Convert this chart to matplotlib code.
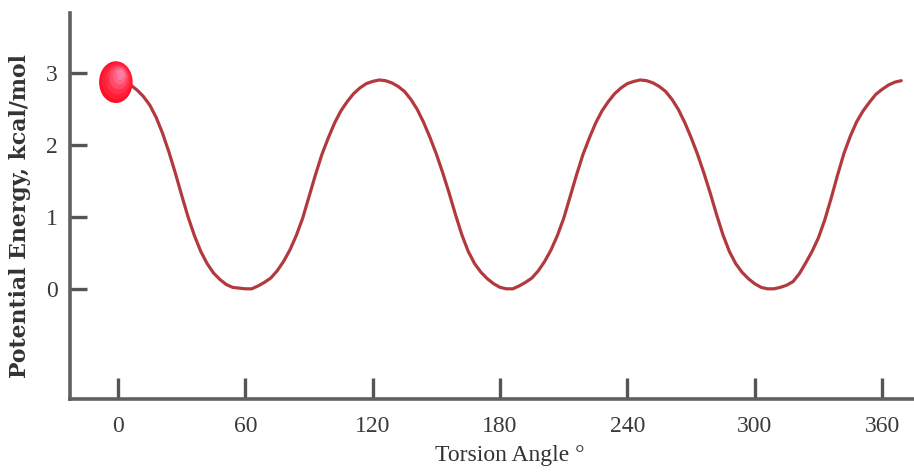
import matplotlib
matplotlib.use("Agg")
import matplotlib.pyplot as plt
from matplotlib.patches import Ellipse

# Data (torsion angle in degrees, energy in kcal/mol)
angles = [0, 3, 6, 9, 12, 15, 18, 21, 24, 27, 30, 33, 36, 39, 42, 45, 48, 51, 54, 57, 60,
          63, 66, 69, 72, 75, 78, 81, 84, 87, 90, 93, 96, 99, 102, 105, 108, 111, 114, 117, 120, 123,
          126, 129, 132, 135, 138, 141, 144, 147, 150, 153, 156, 159, 162, 165, 168, 171, 174, 177, 180, 183,
          186, 189, 192, 195, 198, 201, 204, 207, 210, 213, 216, 219, 222, 225, 228, 231, 234, 237, 240, 243, 246,
          249, 252, 255, 258, 261, 264, 267, 270, 273, 276, 279, 282, 285, 288, 291, 294, 297, 300, 303, 306,
          309, 312, 315, 318, 321, 324, 327, 330, 333, 336, 339, 342, 345, 348, 351, 354, 357, 360, 363, 366, 369]
energy = [2.90, 2.88, 2.83, 2.76, 2.67, 2.55, 2.38, 2.16, 1.90, 1.61, 1.30, 1.00, 0.74, 0.52, 0.35, 0.22, 0.13, 0.06, 0.02, 0.01, 0.00,
          0.00, 0.04, 0.09, 0.15, 0.25, 0.38, 0.54, 0.74, 0.98, 1.28, 1.58, 1.86, 2.09, 2.30, 2.47, 2.60, 2.71, 2.79, 2.85, 2.88, 2.90,
          2.89, 2.86, 2.81, 2.74, 2.63, 2.49, 2.31, 2.10, 1.87, 1.61, 1.33, 1.03, 0.75, 0.52, 0.35, 0.23, 0.14, 0.07, 0.02, 0.00,
          0.00, 0.04, 0.09, 0.15, 0.25, 0.38, 0.54, 0.74, 0.98, 1.28, 1.58, 1.86, 2.09, 2.30, 2.47, 2.60, 2.71, 2.79, 2.85, 2.88, 2.90,
          2.89, 2.86, 2.81, 2.74, 2.63, 2.49, 2.31, 2.10, 1.87, 1.61, 1.33, 1.03, 0.75, 0.52, 0.35, 0.23, 0.14, 0.07, 0.02, 0.00,
          0.00, 0.02, 0.05, 0.10, 0.21, 0.36, 0.52, 0.71, 0.96, 1.26, 1.58, 1.88, 2.12, 2.32, 2.47, 2.59, 2.70, 2.77, 2.83, 2.87, 2.89]
x_ticks = [0, 60, 120, 180, 240, 300, 360]
y_ticks = [0, 1, 2, 3]
ball_angle = -1
ball_energy = 2.87

fig = plt.figure(figsize=(9.14, 4.76), dpi=100)
ax = fig.add_axes([70/914, 77/476, 1 - 70/914, (399-13)/476])
ax.set_xlim(-22.6, 375)
ax.set_ylim(-1.53, 3.83)

ax.plot(angles, energy, color='#b23a3e', lw=2.3, solid_capstyle='round',
        solid_joinstyle='round', zorder=3)

# Ball with simple radial gradient
bw, bh = 15.8, 0.58
layers = [(1.00, '#ff1028'), (0.88, '#ff1e38'), (0.72, '#ff3048'),
          (0.56, '#ff4a68'), (0.40, '#ff6488'), (0.25, '#ff7ca0')]
for s, c in layers:
    off_x = (1 - s) * 3.0
    off_y = (1 - s) * 0.14
    ax.add_patch(Ellipse((ball_angle + off_x, ball_energy + off_y), bw * s, bh * s,
                         facecolor=c, edgecolor='none', zorder=4))

for side in ['top', 'right']:
    ax.spines[side].set_visible(False)
for side in ['left', 'bottom']:
    ax.spines[side].set_color('#606060')
    ax.spines[side].set_linewidth(2.6)

ax.set_xticks(x_ticks)
ax.set_yticks(y_ticks)
ax.set_xticklabels([str(v) for v in x_ticks], family='Liberation Serif', fontsize=17, color='#3a3a3a')
ax.set_yticklabels([str(v) for v in y_ticks], family='Liberation Serif', fontsize=17, color='#3a3a3a')
ax.tick_params(axis='x', direction='in', length=15, width=2.4, color='#555555', pad=12)
ax.tick_params(axis='y', direction='in', length=12, width=2.4, color='#555555', pad=9)

fig.text(20/914, 1 - 216/476, 'Potential Energy, kcal/mol', rotation=90, ha='center', va='center',
         family='DejaVu Serif', fontsize=15.8, fontweight='bold', color='#333333')
fig.text(510/914, 1 - 455/476, 'Torsion Angle °', ha='center', va='center',
         family='Liberation Serif', fontsize=17, color='#333333')

fig.savefig('out.png', dpi=100)
